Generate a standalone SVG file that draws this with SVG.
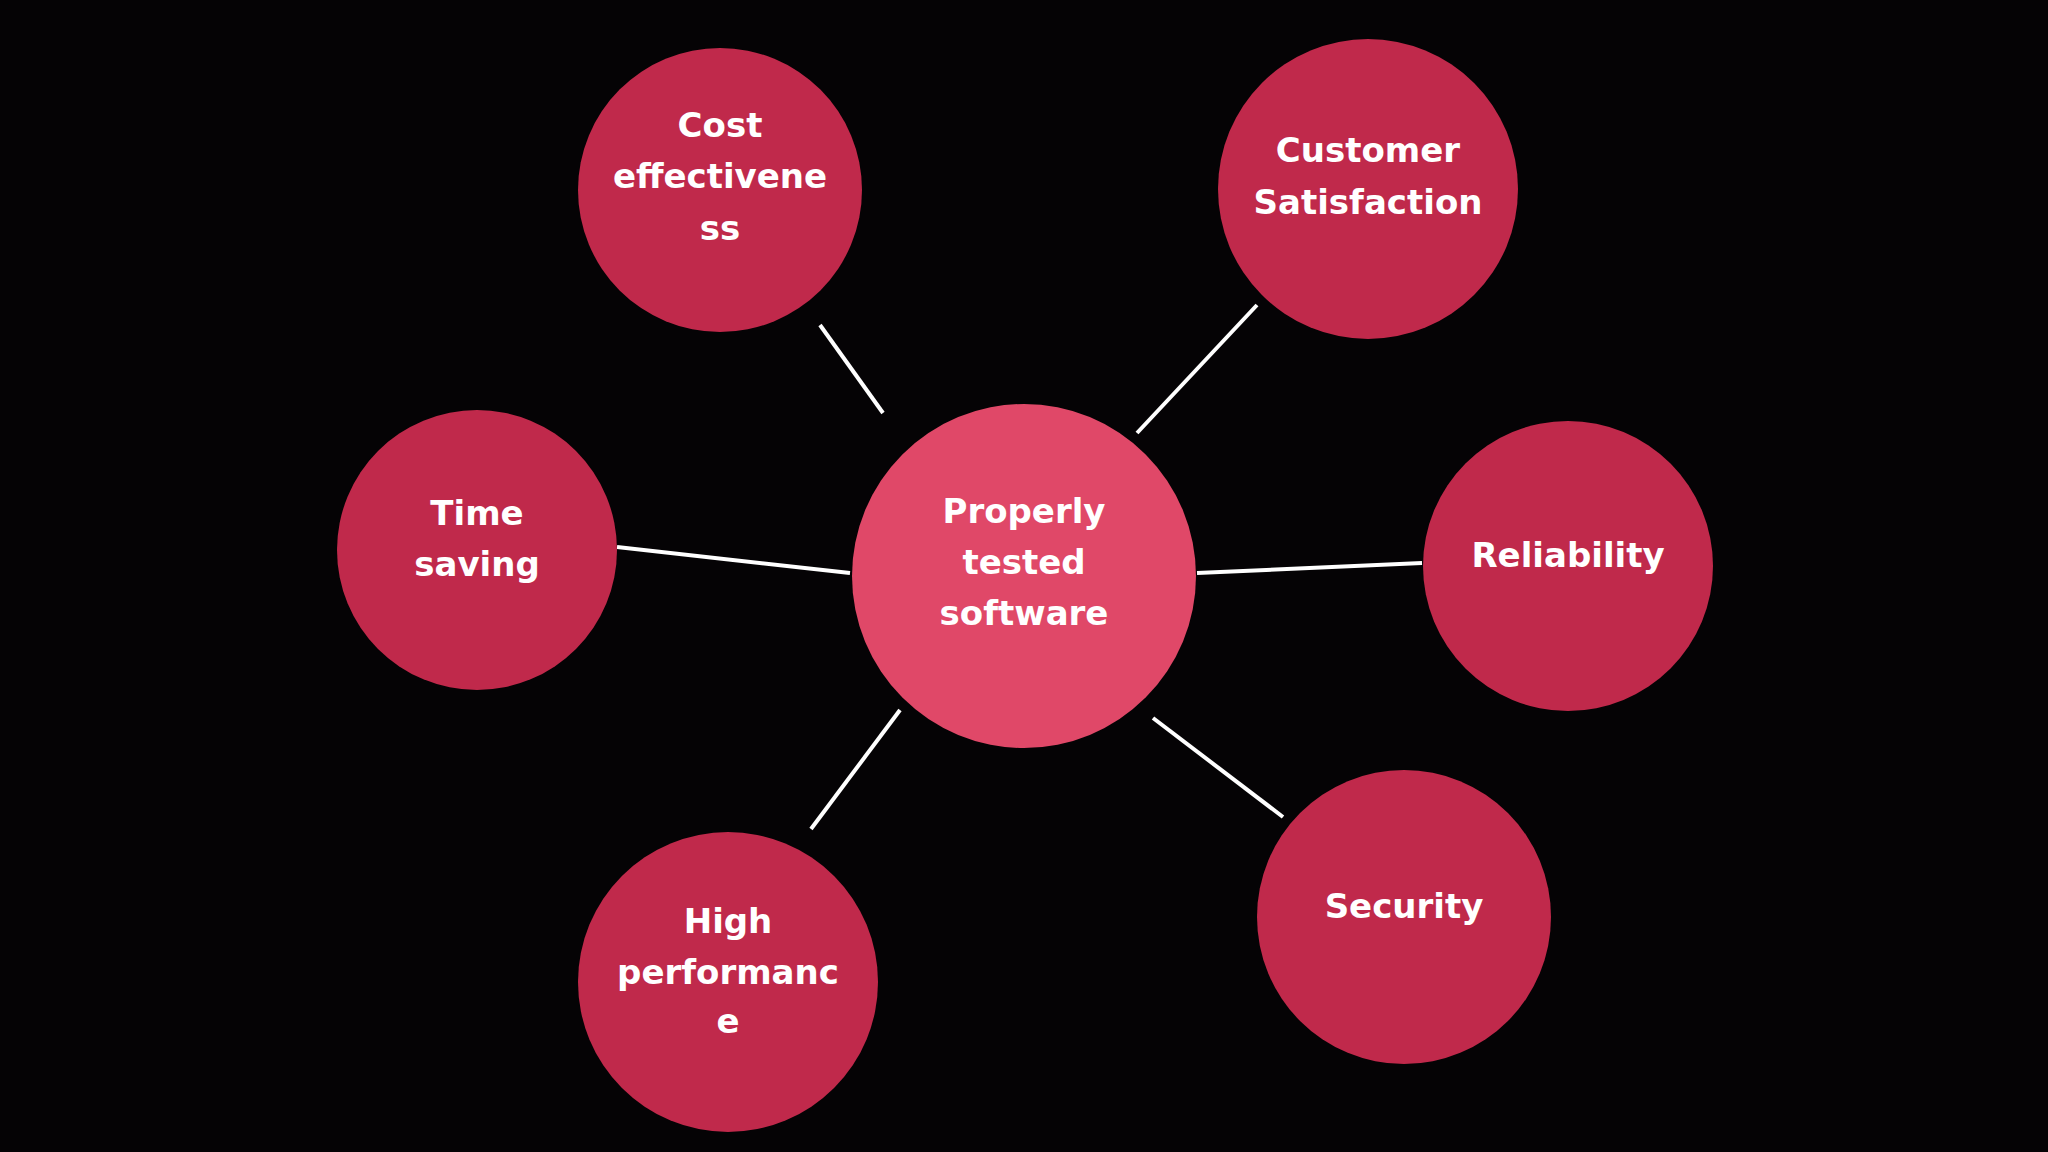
<svg xmlns="http://www.w3.org/2000/svg" width="2048" height="1152" viewBox="0 0 2048 1152">
<style>
.bg{fill:#050305}
.outer{fill:#C0294B}
.center{fill:#E04868}
.lbl{font-family:"DejaVu Sans","Liberation Sans",sans-serif;font-weight:bold;font-size:34px;fill:#FFFFFF;text-anchor:middle}
.conn line{stroke:#FFFFFF;stroke-width:4;stroke-linecap:butt}
</style>
<rect class="bg" x="0" y="0" width="2048" height="1152"/>
<g id="connectors" class="conn">
<line x1="820" y1="325" x2="883" y2="413"/>
<line x1="1137" y1="433" x2="1257" y2="305"/>
<line x1="617" y1="547" x2="850" y2="573"/>
<line x1="1197" y1="573" x2="1422" y2="563"/>
<line x1="900" y1="710" x2="811" y2="829"/>
<line x1="1153" y1="718" x2="1283" y2="817"/>
</g>
<g id="node-center">
<circle class="center" cx="1024" cy="576" r="172"/>
<text class="lbl" x="1024" y="523">Properly</text>
<text class="lbl" x="1024" y="574">tested</text>
<text class="lbl" x="1024" y="625">software</text>
</g>
<g id="node-cost">
<circle class="outer" cx="720" cy="190" r="142"/>
<text class="lbl" x="720" y="137">Cost</text>
<text class="lbl" x="720" y="188">effectivene</text>
<text class="lbl" x="720" y="240">ss</text>
</g>
<g id="node-customer">
<circle class="outer" cx="1368" cy="189" r="150"/>
<text class="lbl" x="1368" y="162">Customer</text>
<text class="lbl" x="1368" y="214">Satisfaction</text>
</g>
<g id="node-time">
<circle class="outer" cx="477" cy="550" r="140"/>
<text class="lbl" x="477" y="525">Time</text>
<text class="lbl" x="477" y="576">saving</text>
</g>
<g id="node-reliability">
<circle class="outer" cx="1568" cy="566" r="145"/>
<text class="lbl" x="1568" y="567">Reliability</text>
</g>
<g id="node-performance">
<circle class="outer" cx="728" cy="982" r="150"/>
<text class="lbl" x="728" y="933">High</text>
<text class="lbl" x="728" y="984">performanc</text>
<text class="lbl" x="728" y="1033">e</text>
</g>
<g id="node-security">
<circle class="outer" cx="1404" cy="917" r="147"/>
<text class="lbl" x="1404" y="918">Security</text>
</g>
</svg>
